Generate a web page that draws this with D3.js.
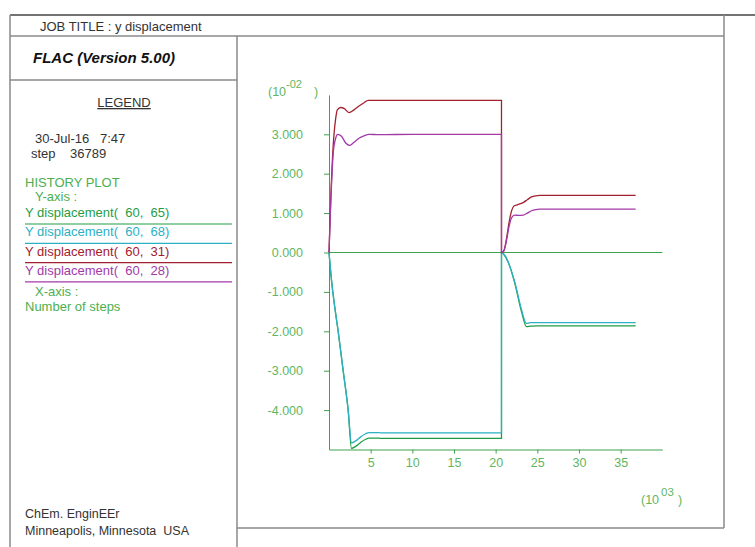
<!DOCTYPE html>
<html>
  <head>
    <meta charset="utf-8">
    <title>FLAC history plot</title>
    <style>
      body { margin: 0; background: #fff; }
      text { font-family: "Liberation Sans", Arial, sans-serif; white-space: pre; }
      .frame { stroke: #8a8a8a; stroke-width: 1.5px; fill: none; }
      .axis path, .axis line { stroke: #3fa34d; stroke-width: 1px; }
      .axis text { fill: #5fb65f; font-size: 12.5px; }
      .series { fill: none; stroke-width: 1.3px; }
    </style>
    <script src="https://cdnjs.cloudflare.com/ajax/libs/d3/7.8.5/d3.min.js"></script>
  </head>
  <body>
    <script type="text/javascript">
      // steps in thousands, displacements in 1e-2
      var stepsRed = [0, 0.2, 0.5, 0.8, 1.0, 1.4, 1.8, 2.4, 3.0, 3.6, 4.2, 4.7, 10, 20.7,
                      20.7, 21.0, 21.3, 21.6, 21.9, 22.2, 22.6, 23.0, 23.4, 23.8, 24.3, 24.8, 25.3, 30, 36.8];
      var valuesRed = [0, 1.3, 2.7, 3.4, 3.62, 3.68, 3.66, 3.55, 3.62, 3.72, 3.8, 3.86, 3.86, 3.86,
                       0, 0.05, 0.35, 0.75, 1.05, 1.18, 1.21, 1.24, 1.28, 1.34, 1.41, 1.44, 1.45, 1.45, 1.45];

      var stepsPurple = [0, 0.2, 0.5, 0.8, 1.05, 1.5, 2.0, 2.5, 3.0, 3.6, 4.2, 4.8, 6, 10, 20.7,
                         20.7, 21.0, 21.3, 21.6, 21.9, 22.3, 22.8, 23.3, 23.8, 24.3, 24.8, 25.3, 30, 36.8];
      var valuesPurple = [0, 1.2, 2.5, 2.9, 3.0, 2.95, 2.78, 2.72, 2.8, 2.9, 2.96, 3.0, 2.99, 3.0, 3.0,
                          0, 0.05, 0.3, 0.65, 0.88, 0.95, 0.94, 0.95, 1.0, 1.06, 1.09, 1.1, 1.1, 1.1];

      var stepsGreen = [0, 0.3, 0.7, 1.1, 1.7, 2.3, 2.7, 3.2, 3.8, 4.4, 4.8, 6, 6.2, 20.7,
                        20.7, 21.0, 21.5, 22.3, 23.1, 23.7, 24.2, 25, 30, 36.8];
      var valuesGreen = [0, -0.7, -1.4, -2.0, -3.0, -4.0, -4.97, -4.92, -4.82, -4.74, -4.71, -4.71, -4.72, -4.72,
                         0, -0.05, -0.24, -0.78, -1.5, -1.88, -1.87, -1.86, -1.86, -1.86];

      var stepsCyan = [0, 0.3, 0.7, 1.1, 1.7, 2.3, 2.7, 3.2, 3.8, 4.4, 4.8, 6, 6.2, 20.7,
                       20.7, 21.0, 21.5, 22.3, 23.1, 23.7, 24.2, 25, 30, 36.8];
      var valuesCyan = [0, -0.7, -1.4, -2.0, -3.0, -4.0, -4.83, -4.78, -4.68, -4.6, -4.57, -4.57, -4.58, -4.58,
                        0, -0.05, -0.24, -0.76, -1.45, -1.8, -1.78, -1.78, -1.78, -1.78];

      var legendLabels = ["Y displacement(  60,  65)", "Y displacement(  60,  68)",
                          "Y displacement(  60,  31)", "Y displacement(  60,  28)"];
      var legendColors = ["#1f9d45", "#2cb0c4", "#a3202e", "#a23aa8"];
      var yTicks = [-4, -3, -2, -1, 0, 1, 2, 3];
      var xTicks = [5, 10, 15, 20, 25, 30, 35];

      var series = [
        {steps: stepsGreen, values: valuesGreen},
        {steps: stepsCyan, values: valuesCyan},
        {steps: stepsRed, values: valuesRed},
        {steps: stepsPurple, values: valuesPurple}
      ];

      var svg = d3.select("body").append("svg")
          .attr("width", 755)
          .attr("height", 547);

      // page frame
      function frameLine(x1, y1, x2, y2, col) {
        svg.append("line").attr("class", "frame")
          .attr("x1", x1).attr("y1", y1).attr("x2", x2).attr("y2", y2)
          .style("stroke", col || null);
      }
      frameLine(10, 15, 755, 15, "#444");
      frameLine(10, 15, 10, 547);
      frameLine(10, 36, 724, 36);
      frameLine(724, 15, 724, 528);
      frameLine(237, 36, 237, 547);
      frameLine(10, 80, 237, 80);
      frameLine(237, 528, 724, 528);

      function label(xp, yp, txt, size, col) {
        return svg.append("text").attr("x", xp).attr("y", yp)
          .style("font-size", size + "px").style("fill", col)
          .text(txt);
      }

      // left panel texts
      label(40, 31, "JOB TITLE : y displacement", 13, "#333");
      label(33, 63, "FLAC (Version 5.00)", 15, "#111")
        .style("font-weight", "bold").style("font-style", "italic");
      label(124, 107, "LEGEND", 13, "#333")
        .attr("text-anchor", "middle").style("text-decoration", "underline");
      label(35, 143, "30-Jul-16   7:47", 13, "#333");
      label(31, 158, "step    36789", 13, "#333");
      label(25, 187, "HISTORY PLOT", 13, "#4caf50");
      label(35, 201, "Y-axis :", 13, "#4caf50");

      var leg = svg.selectAll(".leg").data(legendLabels).enter().append("g")
          .attr("class", "leg")
          .attr("transform", function(d, i) { return "translate(0," + (217 + i * 19.3) + ")"; });
      leg.append("text").attr("x", 25).attr("y", 0)
        .style("font-size", "13px")
        .style("fill", function(d, i) { return legendColors[i]; })
        .text(function(d) { return d; });
      leg.append("line").attr("x1", 25).attr("x2", 232).attr("y1", 7).attr("y2", 7)
        .style("stroke", function(d, i) { return legendColors[i]; })
        .style("stroke-width", 1.2);

      label(35, 296, "X-axis :", 13, "#4caf50");
      label(25, 311, "Number of steps", 13, "#4caf50");

      label(25, 518, "ChEm. EnginEEr", 12.5, "#333");
      label(25, 535, "Minneapolis, Minnesota  USA", 12.5, "#333");

      // plot
      var x = d3.scaleLinear().domain([0, 40]).range([329, 662.3]);
      var y = d3.scaleLinear().domain([-5, 4]).range([449.5, 94.9]);

      var fmt = d3.format(".3f");
      svg.append("g").attr("class", "axis")
        .attr("transform", "translate(" + x(0) + ",0)")
        .call(d3.axisLeft(y).tickValues(yTicks)
          .tickFormat(function(d) { return fmt(d).replace("\u2212", "-"); })
          .tickSize(5).tickSizeOuter(0).tickPadding(21));

      svg.append("g").attr("class", "axis")
        .attr("transform", "translate(0," + y(-5) + ")")
        .call(d3.axisBottom(x).tickValues(xTicks).tickFormat(d3.format("d"))
          .tickSize(4).tickSizeOuter(0).tickPadding(5));

      // zero line
      svg.append("line")
        .attr("x1", x(0)).attr("x2", x(40))
        .attr("y1", y(0)).attr("y2", y(0))
        .style("stroke", "#3fa34d").style("stroke-width", 1);

      var line = d3.line()
          .x(function(d) { return x(d[0]); })
          .y(function(d) { return y(d[1]); })
          .curve(d3.curveMonotoneX);

      svg.selectAll(".series").data(series).enter().append("path")
        .attr("class", "series")
        .attr("d", function(s) {
          // two phases joined by the vertical reset at 20.7k steps
          var pts = s.steps.map(function(t, i) { return [t, s.values[i]]; });
          var cut = s.steps.indexOf(20.7) + 1;
          var p1 = pts.slice(0, cut), p2 = pts.slice(cut);
          return line(p1) + line(p2).replace(/^M/, "L");
        })
        .style("stroke", function(d, i) { return legendColors[i]; });

      // exponent labels
      var e1 = svg.append("text").attr("x", 268).attr("y", 96)
        .style("font-size", "12.5px").style("fill", "#5fb65f");
      e1.append("tspan").text("(10");
      e1.append("tspan").attr("dy", -8).style("font-size", "11px").text("-02");
      e1.append("tspan").attr("x", 314).attr("dy", 8).text(")");

      var e2 = svg.append("text").attr("x", 641).attr("y", 504)
        .style("font-size", "12.5px").style("fill", "#5fb65f");
      e2.append("tspan").text("(10");
      e2.append("tspan").attr("dx", 2).attr("dy", -8).style("font-size", "11.5px").text("03");
      e2.append("tspan").attr("x", 678).attr("dy", 8).text(")");
    </script>
  </body>
</html>
